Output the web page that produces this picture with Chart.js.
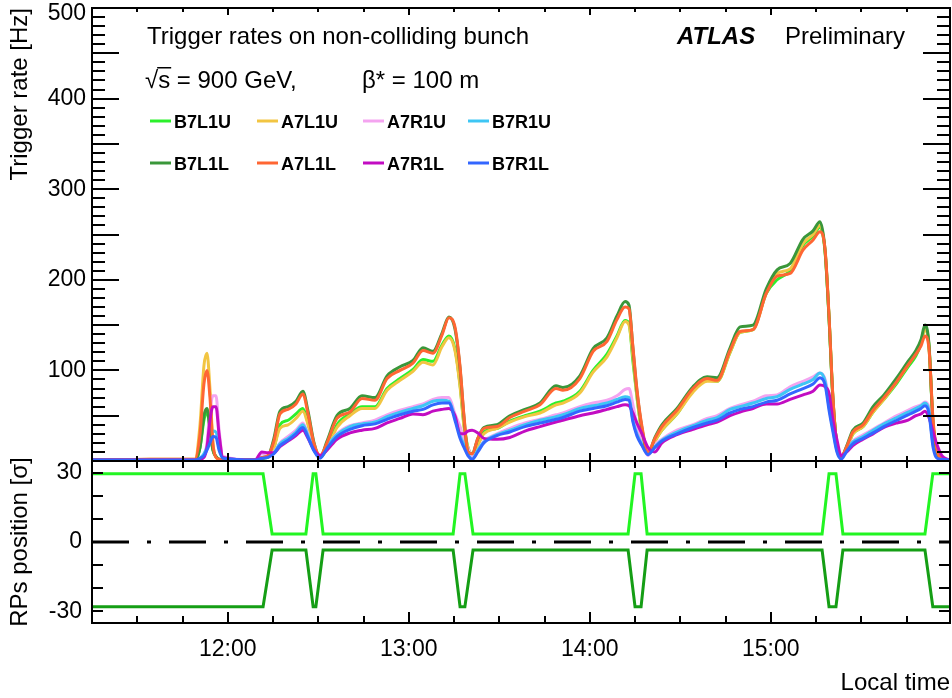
<!DOCTYPE html>
<html>
<head>
<meta charset="utf-8">
<script src="https://cdn.jsdelivr.net/npm/chart.js@4.4.0/dist/chart.umd.min.js"></script>
<style>
  html, body { margin: 0; padding: 0; background: #fff; }
  #wrap { position: relative; width: 952px; height: 698px; overflow: hidden; background: #fff; }
  #rates { position: absolute; left: 0; top: 0; }
  #pos { position: absolute; left: 0; top: 451px; }
</style>
</head>
<body>
<div id="wrap">
  <canvas id="rates" width="952" height="462"></canvas>
  <canvas id="pos" width="952" height="247"></canvas>
</div>
<script>
    // time axis: minutes after 11:00
    const times = [15.0, 34.2, 49.1, 50.8, 52.1, 53.1, 54.1, 55.1, 56.1, 57.1, 58.4,
        69.0, 71.3, 73.3, 75.3, 77.3, 80.0, 82.6, 84.9, 86.6, 88.6, 90.6,
        92.9, 96.2, 100.5, 104.5, 108.8, 112.8, 117.1, 121.4, 124.7, 128.0, 131.0,
        133.3, 135.3, 137.0, 138.3, 139.6, 141.0, 142.9, 144.9, 149.2, 153.5, 158.5,
        163.5, 168.8, 171.1, 176.7, 181.1, 185.7, 189.0, 191.7, 193.0, 194.3, 195.6,
        197.3, 199.3, 201.6, 203.9, 208.9, 214.2, 218.9, 222.2, 226.5, 229.8, 234.1,
        238.5, 242.1, 246.4, 250.7, 254.0, 256.3, 258.0, 259.3, 260.6, 261.9, 263.3,
        265.2, 267.2, 270.6, 273.9, 277.5, 281.8, 285.5, 288.1, 289.8, 291.1, 292.4,
        293.8, 295.1, 296.7, 299.4];

    // trigger rates [Hz]
    const b7l1u = [1, 1, 1, 15, 45, 55, 35, 12, 5, 2, 1,
        1, 3, 4, 15, 40, 45, 52, 58, 42, 16, 4,
        14, 40, 52, 60, 60, 80, 91, 101, 112, 110, 128,
        138, 124, 84, 40, 15, 8, 18, 32, 36, 44, 50,
        55, 64, 66, 77, 100, 118, 138, 155, 152, 110, 72,
        30, 8, 22, 34, 52, 78, 89, 88, 120, 142, 145,
        185, 200, 210, 238, 248, 258, 230, 158, 68, 18, 4,
        14, 30, 38, 54, 68, 86, 104, 116, 130, 147, 128,
        40, 10, 2, 1];
    const b7l1l = [1, 1, 1, 15, 50, 58, 35, 12, 5, 2, 1,
        1, 3, 5, 25, 55, 60, 66, 77, 55, 20, 4,
        22, 50, 58, 72, 70, 94, 104, 111, 125, 121, 141,
        159, 146, 102, 48, 10, 8, 25, 37, 40, 50, 57,
        64, 83, 81, 94, 124, 136, 160, 176, 172, 124, 78,
        36, 8, 26, 40, 58, 82, 93, 92, 125, 148, 150,
        190, 211, 218, 245, 254, 264, 232, 158, 68, 18, 4,
        17, 34, 42, 60, 73, 92, 110, 122, 134, 150, 130,
        40, 10, 2, 1];
    const a7l1u = [1, 2, 2, 40, 105, 119, 80, 20, 4, 2, 1,
        1, 4, 5, 15, 36, 40, 47, 55, 40, 15, 5,
        13, 37, 50, 58, 58, 78, 89, 99, 109, 106, 126,
        136, 122, 82, 38, 15, 8, 18, 30, 36, 43, 49,
        53, 62, 64, 75, 98, 115, 136, 154, 150, 115, 72,
        32, 9, 22, 34, 52, 76, 88, 88, 120, 142, 145,
        186, 207, 212, 240, 250, 260, 232, 160, 70, 18, 5,
        14, 30, 38, 54, 68, 88, 106, 120, 132, 145, 128,
        42, 10, 2, 1];
    const a7l1l = [1, 2, 2, 30, 85, 100, 70, 18, 4, 2, 1,
        1, 4, 6, 22, 52, 57, 63, 74, 52, 19, 6,
        20, 47, 54, 69, 67, 91, 100, 108, 122, 119, 139,
        158, 148, 104, 50, 10, 8, 25, 36, 38, 48, 55,
        62, 80, 78, 91, 121, 132, 156, 170, 168, 126, 80,
        38, 10, 25, 38, 56, 80, 91, 89, 122, 143, 145,
        185, 204, 207, 233, 244, 253, 233, 160, 70, 18, 5,
        16, 32, 40, 56, 70, 88, 106, 118, 127, 138, 125,
        45, 12, 2, 1];
    const a7r1u = [1, 1, 1, 2, 5, 20, 55, 72, 72, 35, 5,
        1, 8, 8, 10, 20, 27, 34, 42, 30, 14, 6,
        16, 30, 39, 42, 45, 51, 56, 60, 63, 68, 70,
        70, 52, 38, 24, 14, 5, 12, 22, 30, 36, 42,
        46, 51, 53, 60, 64, 67, 72, 79, 80, 62, 40,
        20, 6, 18, 24, 34, 40, 47, 50, 58, 62, 66,
        72, 73, 82, 88, 93, 97, 90, 68, 42, 16, 5,
        14, 22, 29, 35, 42, 50, 56, 60, 62, 65, 60,
        25, 6, 2, 1];
    const a7r1l = [1, 1, 1, 2, 4, 15, 45, 60, 60, 30, 4,
        1, 10, 9, 9, 16, 22, 28, 34, 25, 12, 6,
        12, 24, 31, 34, 36, 42, 47, 52, 51, 55, 57,
        58, 50, 30, 30, 33, 34, 31, 25, 24, 26, 33,
        38, 43, 45, 50, 53, 57, 60, 62, 61, 53, 42,
        30, 15, 10, 20, 29, 35, 40, 43, 50, 54, 58,
        63, 63, 68, 73, 77, 84, 82, 75, 45, 24, 6,
        10, 17, 24, 30, 37, 42, 45, 50, 52, 55, 48,
        32, 18, 6, 1];
    const b7r1u = [1, 1, 1, 3, 8, 15, 25, 33, 32, 15, 3,
        1, 4, 5, 9, 19, 25, 32, 40, 28, 12, 4,
        16, 29, 38, 41, 43, 49, 54, 58, 61, 66, 67,
        66, 48, 28, 18, 8, 2, 12, 21, 29, 34, 40,
        45, 49, 51, 58, 61, 64, 68, 71, 70, 45, 30,
        18, 8, 16, 23, 32, 39, 45, 48, 57, 60, 64,
        69, 71, 79, 85, 90, 97, 88, 60, 35, 12, 3,
        13, 21, 27, 34, 41, 48, 54, 58, 61, 64, 56,
        18, 4, 2, 1];
    const b7r1l = [1, 1, 1, 3, 6, 12, 20, 27, 26, 12, 3,
        1, 3, 4, 8, 17, 23, 30, 37, 26, 11, 3,
        14, 27, 35, 39, 41, 46, 51, 55, 57, 62, 64,
        64, 45, 25, 15, 6, 2, 10, 20, 28, 32, 38,
        42, 46, 48, 55, 58, 61, 65, 68, 67, 43, 28,
        17, 7, 15, 22, 30, 37, 42, 45, 53, 57, 60,
        65, 67, 74, 80, 85, 92, 84, 56, 32, 10, 2,
        11, 19, 25, 31, 38, 45, 51, 55, 58, 61, 53,
        15, 3, 2, 1];

    // roman pot positions [sigma]
    const posTimes = [15, 71.7, 74.7, 85.9, 88.3, 89.2, 91.6, 134.7, 137.0, 138.6, 141.3,
        192.7, 195.0, 197.0, 199.0, 257.0, 259.3, 261.6, 263.9, 291.1, 293.7, 299.4];
    const posUpper = [29.5, 29.5, 3.5, 3.5, 29.5, 29.5, 3.5, 3.5, 29.5, 29.5, 3.5,
        3.5, 29.5, 29.5, 3.5, 3.5, 29.5, 29.5, 3.5, 3.5, 29.5, 29.5];
    const posLower = [-28, -28, -3.5, -3.5, -28, -28, -3.5, -3.5, -28, -28, -3.5,
        -3.5, -28, -28, -3.5, -3.5, -28, -28, -3.5, -3.5, -28, -28];

    const rateTicks = [0, 100, 200, 300, 400, 500];
    const posTicks = [-30, 0, 30];
    const hourTicks = [60, 120, 180, 240];

    const names = ['B7L1U', 'A7L1U', 'A7R1U', 'B7R1U', 'B7L1L', 'A7L1L', 'A7R1L', 'B7R1L'];
    const series = [b7l1u, a7l1u, a7r1u, b7r1u, b7l1l, a7l1l, a7r1l, b7r1l];
    const colors = ['#2cf02c', '#f2c542', '#f4a4f0', '#3ec6f4', '#3a973a', '#ff6633', '#c20cc2', '#3366ff'];

    const FONT = '"Liberation Sans", Arial, Helvetica, sans-serif';
    const X_MIN = 15, X_MAX = 299.4;

    function xy(xs, ys) {
        return xs.map((t, i) => ({ x: t, y: ys[i] }));
    }

    // ROOT-like frame with inward ticks on all four sides
    function frameTicks(cfg) {
        return {
            id: 'frameTicks',
            afterDraw(chart) {
                const ctx = chart.ctx;
                const a = chart.chartArea;
                const xs = chart.scales.x, ys = chart.scales.y;
                ctx.save();
                ctx.strokeStyle = '#000';
                ctx.lineWidth = 2;
                ctx.strokeRect(a.left, a.top, a.right - a.left, a.bottom - a.top);
                ctx.beginPath();
                for (let v = cfg.yFrom; v <= cfg.yTo + 1e-6; v += cfg.yStep) {
                    const p = Math.round(ys.getPixelForValue(v));
                    const len = cfg.yLen(v);
                    ctx.moveTo(a.left, p); ctx.lineTo(a.left + len, p);
                    ctx.moveTo(a.right, p); ctx.lineTo(a.right - len, p);
                }
                for (let t = 15; t <= X_MAX; t += 15) {
                    const p = Math.round(xs.getPixelForValue(t));
                    const major = t % 60 === 0;
                    ctx.moveTo(p, a.top); ctx.lineTo(p, a.top + (major ? cfg.topMajor : cfg.topMinor));
                    ctx.moveTo(p, a.bottom); ctx.lineTo(p, a.bottom - (major ? cfg.botMajor : cfg.botMinor));
                }
                ctx.stroke();
                ctx.restore();
            }
        };
    }

    const labels = {
        id: 'labels',
        afterDraw(chart) {
            const ctx = chart.ctx;
            const a = chart.chartArea;
            ctx.save();
            ctx.fillStyle = '#000';
            ctx.textBaseline = 'alphabetic';

            // top axis label sits just below its tick, as ROOT does
            ctx.font = '23px ' + FONT;
            ctx.textAlign = 'right';
            ctx.fillText(String(rateTicks[rateTicks.length - 1]), a.left - 6,
                chart.scales.y.getPixelForValue(rateTicks[rateTicks.length - 1]) + 12);
            ctx.textAlign = 'left';

            ctx.font = '24px ' + FONT;
            ctx.fillText('Trigger rates on non-colliding bunch', 147, 44);
            ctx.fillText('Preliminary', 785, 44);
            const wRoot = ctx.measureText('\u221A').width;
            ctx.fillText('\u221A', 145, 88);
            ctx.fillText('s = 900 GeV,', 145 + wRoot, 88);
            const wS = ctx.measureText('s').width;
            ctx.fillRect(145 + wRoot - 1, 67, wS + 2, 1.5);
            ctx.fillText('\u03B2* = 100 m', 362, 88);
            ctx.font = 'italic bold 24px ' + FONT;
            ctx.fillText('ATLAS', 677, 44);

            // legend, two rows of four
            const colX = [150, 257, 363, 468];
            const rowY = [121, 163];
            ctx.font = 'bold 18px ' + FONT;
            chart.data.datasets.forEach((ds, i) => {
                const x = colX[i % 4];
                const y = rowY[Math.floor(i / 4)];
                ctx.strokeStyle = ds.borderColor;
                ctx.lineWidth = 3;
                ctx.beginPath();
                ctx.moveTo(x, y); ctx.lineTo(x + 21, y);
                ctx.stroke();
                ctx.fillStyle = '#000';
                ctx.fillText(ds.label, x + 24, y + 7);
            });
            ctx.restore();
        }
    };

    const rateSets = names.map((n, i) => ({
        label: n,
        data: xy(times, series[i]),
        borderColor: colors[i],
        borderWidth: 3,
        pointRadius: 0,
        fill: false,
        cubicInterpolationMode: 'monotone',
        order: names.length - 1 - i
    }));

    new Chart(document.getElementById('rates'), {
        type: 'line',
        data: { datasets: rateSets },
        options: {
            responsive: false,
            animation: false,
            layout: { padding: { top: 8, right: 2, bottom: 1, left: 0 } },
            plugins: { legend: { display: false }, tooltip: { enabled: false } },
            scales: {
                x: { type: 'linear', min: X_MIN, max: X_MAX, display: false },
                y: {
                    min: 0,
                    max: 500,
                    afterBuildTicks: s => { s.ticks = rateTicks.map(v => ({ value: v })); },
                    afterFit: s => { s.width = 92; s.paddingTop = 0; s.paddingBottom = 0; },
                    grid: { display: false, drawTicks: false },
                    border: { display: false },
                    ticks: {
                        padding: 6,
                        color: '#000',
                        font: { family: FONT, size: 23 },
                        callback: v => (v === 0 || v === 500) ? '' : v
                    },
                    title: {
                        display: true,
                        text: 'Trigger rate [Hz]',
                        align: 'end',
                        color: '#000',
                        font: { family: FONT, size: 24 },
                        padding: { top: 6, bottom: 0 }
                    }
                }
            }
        },
        plugins: [labels, frameTicks({
            yFrom: 0, yTo: 500, yStep: 10,
            yLen: v => (v % 50 === 0 ? 27 : 13),
            topMajor: 7, topMinor: 4, botMajor: 8, botMinor: 5
        })]
    });

    new Chart(document.getElementById('pos'), {
        type: 'line',
        data: {
            datasets: [{
                label: 'zero',
                data: xy([X_MIN, X_MAX], [0, 0]),
                borderColor: '#000',
                borderWidth: 3,
                borderDash: [37, 18, 4, 18],
                pointRadius: 0
            }, {
                label: 'B7L1U',
                data: xy(posTimes, posUpper),
                borderColor: '#22f522',
                borderWidth: 3,
                pointRadius: 0
            }, {
                label: 'B7L1L',
                data: xy(posTimes, posLower),
                borderColor: '#159e15',
                borderWidth: 3,
                pointRadius: 0
            }]
        },
        options: {
            responsive: false,
            animation: false,
            layout: { padding: { top: 10, right: 2, bottom: 0, left: 0 } },
            plugins: { legend: { display: false }, tooltip: { enabled: false } },
            scales: {
                x: {
                    type: 'linear',
                    min: X_MIN,
                    max: X_MAX,
                    afterBuildTicks: s => { s.ticks = hourTicks.map(v => ({ value: v })); },
                    afterFit: s => { s.height = 75; },
                    grid: { display: false, drawTicks: false },
                    border: { display: false },
                    ticks: {
                        padding: 13,
                        maxRotation: 0,
                        color: '#000',
                        font: { family: FONT, size: 23 },
                        callback: v => (11 + Math.floor(v / 60)) + ':' + String(v % 60).padStart(2, '0')
                    },
                    title: {
                        display: true,
                        text: 'Local time',
                        align: 'end',
                        color: '#000',
                        font: { family: FONT, size: 24 },
                        padding: { top: 0, bottom: 0 }
                    }
                },
                y: {
                    min: -35,
                    max: 35,
                    afterBuildTicks: s => { s.ticks = posTicks.map(v => ({ value: v })); },
                    afterFit: s => { s.width = 92; s.paddingTop = 0; s.paddingBottom = 0; },
                    grid: { display: false, drawTicks: false },
                    border: { display: false },
                    ticks: {
                        padding: 10,
                        color: '#000',
                        font: { family: FONT, size: 23 }
                    },
                    title: {
                        display: true,
                        text: 'RPs position [\u03C3]',
                        color: '#000',
                        font: { family: FONT, size: 24 },
                        padding: { top: 6, bottom: 0 }
                    }
                }
            }
        },
        plugins: [frameTicks({
            yFrom: -30, yTo: 30, yStep: 10,
            yLen: () => 11,
            topMajor: 11, topMinor: 7, botMajor: 11, botMinor: 7
        })]
    });
</script>
</body>
</html>
